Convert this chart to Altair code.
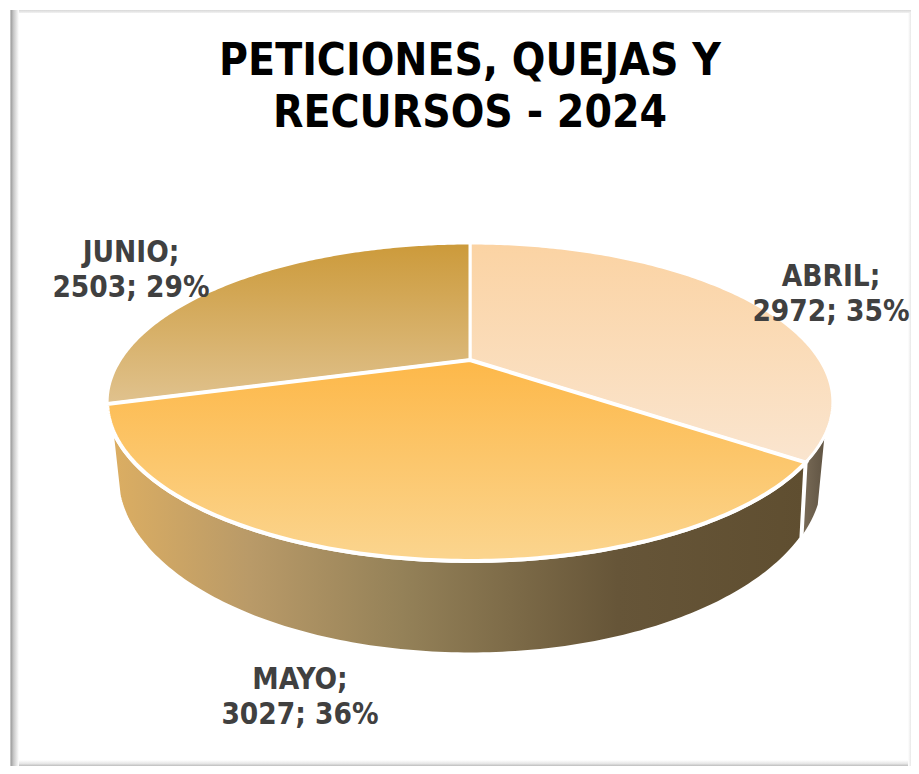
import numpy as np
import altair as alt

months = ["ABRIL", "MAYO", "JUNIO"]
values = [2972, 3027, 2503]
percents = ["35%", "36%", "29%"]
title_lines = ["PETICIONES, QUEJAS Y", "RECURSOS - 2024"]

top_colors = [
    ["#FBD3A3", "#FAE5CF"],
    ["#FDB849", "#FBD58F"],
    ["#CC9A3A", "#E0C28E"],
]

CX = 470


def top_rim(theta):
    u, v = np.sin(theta), np.cos(theta)
    d = 1 + 0.264 * v
    return CX + 350 * u / d, 360 - 147.9 * v / d


def low_rim(theta):
    u, v = np.sin(theta), np.cos(theta)
    d = 1 + 0.30 * v
    return CX + 337 * u / d, 423 - 162 * v / d


def feature(xs, ys):
    pts = [[float(a), float(b)] for a, b in zip(xs, ys)]
    pts.append(pts[0])
    return {"type": "Feature", "properties": {},
            "geometry": {"type": "Polygon", "coordinates": [pts]}}


def sector(a, b):
    th = np.linspace(a, b, 160)
    x, y = top_rim(th)
    return feature(np.r_[CX, x], np.r_[360, y])


def wall(a, b):
    th = np.linspace(a, b, 160)
    x1, y1 = top_rim(th)
    x2, y2 = low_rim(th[::-1])
    return feature(np.r_[x1, x2], np.r_[y1, y2])


def grad(stops, horizontal=False):
    return {
        "gradient": "linear",
        "x1": 0, "y1": 0,
        "x2": 1 if horizontal else 0,
        "y2": 0 if horizontal else 1,
        "stops": [{"offset": o, "color": c} for o, c in stops],
    }


cum = np.cumsum([0] + values) / sum(values) * 2 * np.pi


def shape(feat, fill, stroke_w):
    return alt.Chart(alt.Data(values=[feat])).mark_geoshape(
        fill=fill, stroke="white", strokeWidth=stroke_w
    ).project(type="identity", scale=1, translate=[-8, -8])


def frame_rect(x, x2, y, y2, fill):
    return alt.Chart(alt.Data(values=[{"a": 1}])).mark_rect(fill=fill).encode(
        x=alt.value(x - 8), x2=alt.value(x2 - 8), y=alt.value(y - 8), y2=alt.value(y2 - 8)
    )


def text(lines, cx, baseline, size, line_height, color):
    return alt.Chart(alt.Data(values=[{"t": lines}])).mark_text(
        font="DejaVu Sans Condensed", fontWeight="bold", fontSize=size, color=color,
        align="center", baseline="alphabetic", lineHeight=line_height,
    ).encode(x=alt.value(cx - 8), y=alt.value(baseline - 8), text="t:N")


layers = [
    frame_rect(10, 911, 10, 13, grad([(0, "#D8D8D8"), (1, "#F2F2F2")])),
    frame_rect(10, 19, 10, 766, grad([(0, "#E4E4E4"), (0.12, "#A0A0A0"), (0.4, "#C8C8C8"), (1, "#FFFFFF")], True)),
    frame_rect(19, 911, 760, 766, grad([(0, "#FFFFFF"), (0.6, "#E6E6E6"), (1, "#BDBDBD")])),
    frame_rect(908, 911, 13, 766, grad([(0, "#FFFFFF"), (1, "#E8E8E8")], True)),
    shape(wall(np.radians(116), cum[1]), grad([(0, "#7A6C58"), (1, "#5F5342")], True), 2),
    shape(wall(cum[1], np.radians(247)),
          grad([(0, "#DCAE62"), (0.2, "#B99A68"), (0.42, "#948158"), (0.73, "#665538"), (1, "#5F4E30")], True), 4),
    shape(sector(cum[0], cum[1]), grad([(0, top_colors[0][0]), (1, top_colors[0][1])]), 3),
    shape(sector(cum[2], cum[3]), grad([(0, top_colors[2][0]), (1, top_colors[2][1])]), 3),
    shape(sector(cum[1], cum[2]), grad([(0, top_colors[1][0]), (1, top_colors[1][1])]), 4),
    text(title_lines, CX, 75, 44, 52, "#000000"),
    text([f"{months[0]};", f"{values[0]}; {percents[0]}"], 831, 286, 29.5, 35, "#404040"),
    text([f"{months[1]};", f"{values[1]}; {percents[1]}"], 300, 689, 29.5, 35, "#404040"),
    text([f"{months[2]};", f"{values[2]}; {percents[2]}"], 131, 262, 29.5, 35, "#404040"),
]

chart = alt.layer(*layers).properties(
    width=903, height=758, padding=0, background="white",
    autosize=alt.AutoSizeParams(type="none"),
).configure_view(stroke=None)

chart.save("out.html", embed_options={"renderer": "svg", "actions": False})
